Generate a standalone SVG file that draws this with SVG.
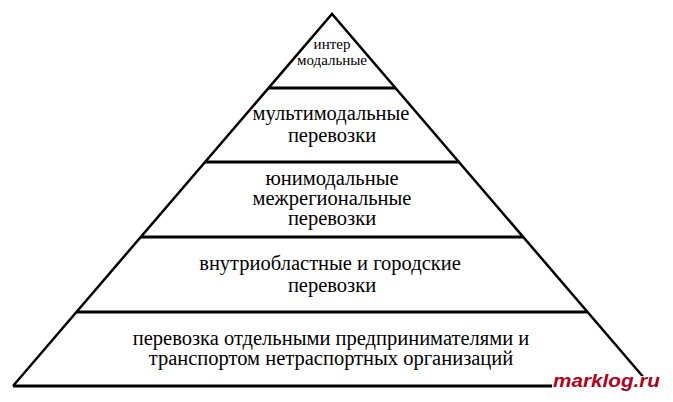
<svg xmlns="http://www.w3.org/2000/svg" width="673" height="402" viewBox="0 0 673 402">
<style>
.t{font-size:20.5px;fill:#000;text-anchor:middle}
.s{font-size:15px}
.edge{stroke:#000;stroke-width:2.5;fill:none;stroke-linejoin:miter}
.div{stroke:#000;stroke-width:3;fill:none}
.wm{font-weight:bold;font-style:italic;font-size:19px;fill:#b3001b}
</style>
<rect width="673" height="402" fill="#fff"/>
<g id="connectors">
<path class="edge" d="M13,386 L332,14 L651,386"/>
<path class="div" d="M13,386 H651"/>
</g>
<g font-family="Liberation Serif, Times New Roman, serif">
<g id="level1">
<line class="div" x1="268.5" y1="88" x2="395.5" y2="88"/>
<text class="t s" x="332" y="49" font-family="Liberation Serif">интер</text>
<text class="t s" x="332" y="65" font-family="Liberation Serif">модальные</text>
</g>
<g id="level2">
<line class="div" x1="205" y1="162" x2="459" y2="162"/>
<text class="t" x="331" y="120" font-family="Liberation Serif">мультимодальные</text>
<text class="t" x="332" y="142" font-family="Liberation Serif">перевозки</text>
</g>
<g id="level3">
<line class="div" x1="141" y1="237" x2="523" y2="237"/>
<text class="t" x="332" y="185" font-family="Liberation Serif">юнимодальные</text>
<text class="t" x="332" y="205" font-family="Liberation Serif">межрегиональные</text>
<text class="t" x="332" y="225" font-family="Liberation Serif">перевозки</text>
</g>
<g id="level4">
<line class="div" x1="77" y1="312" x2="587" y2="312"/>
<text class="t" x="330" y="270" font-family="Liberation Serif">внутриобластные и городские</text>
<text class="t" x="332" y="292" font-family="Liberation Serif">перевозки</text>
</g>
<g id="level5">
<text class="t" x="331" y="345" font-family="Liberation Serif">перевозка отдельными предпринимателями и</text>
<text class="t" x="331" y="365" font-family="Liberation Serif">транспортом нетраспортных организаций</text>
</g>
</g>
<g id="watermark" font-family="Liberation Sans, Arial, sans-serif">
<rect x="552" y="376" width="121" height="26" fill="#fff"/>
<text class="wm" x="553" y="387" textLength="107" lengthAdjust="spacingAndGlyphs">marklog.ru</text>
</g>
</svg>
